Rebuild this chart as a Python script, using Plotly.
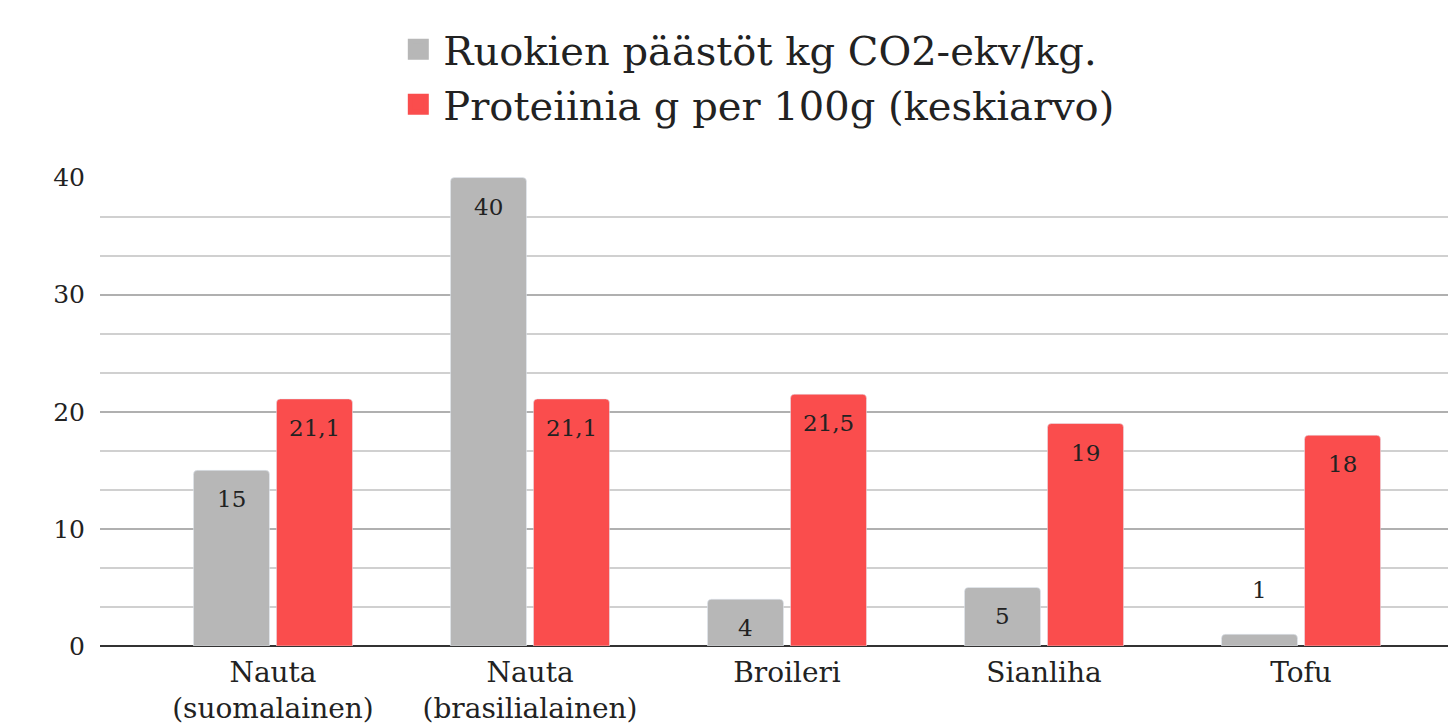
import plotly.graph_objects as go

categories = ["Nauta<br>(suomalainen)", "Nauta<br>(brasilialainen)", "Broileri", "Sianliha", "Tofu"]
emissions = [15, 40, 4, 5, 1]
protein = [21.1, 21.1, 21.5, 19, 18]
series_names = ["Ruokien päästöt kg CO2-ekv/kg.", "Proteiinia g per 100g (keskiarvo)"]
colors = ["#b7b7b7", "#fa4d4d"]
y_ticks = [0, 10, 20, 30, 40]

FONT = "DejaVu Serif"
TXT = "#222222"

def fmt(v):
    return ("%g" % v).replace(".", ",")

fig = go.Figure()
for vals, name, col in [(emissions, series_names[0], colors[0]), (protein, series_names[1], colors[1])]:
    fig.add_trace(go.Bar(x=categories, y=vals, name=name, marker=dict(color=col),
                         showlegend=False, hoverinfo="x+y"))
    # legend proxy with larger square symbol
    fig.add_trace(go.Scatter(x=[None], y=[None], mode="markers", name=name,
                             marker=dict(symbol="square", size=16, color=col,
                                         line=dict(color=col, width=5)),
                             showlegend=True))

# value labels placed at each bar top via data coordinates
for vals, dx in [(emissions, -41.5), (protein, 41.5)]:
    for cat, v in zip(categories, vals):
        small = v < 3
        fig.add_annotation(x=cat, y=v, text=fmt(v), showarrow=False,
                           xshift=dx, yshift=(44 if small else -29),
                           font=dict(family=FONT, size=23, color=TXT),
                           bgcolor="white" if small else None)

fig.update_layout(
    width=1456, height=724,
    margin=dict(l=92, r=8, t=169, b=86, autoexpand=False),
    paper_bgcolor="white", plot_bgcolor="white",
    barmode="group", bargap=0.354, bargroupgap=0.084,
    barcornerradius=4,
    font=dict(family=FONT, color=TXT),
    legend=dict(orientation="v", x=0.484, xanchor="center",
                yref="container", y=0.988, yanchor="top",
                font=dict(family=FONT, size=40, color=TXT),
                traceorder="normal", itemwidth=40),
)
fig.update_xaxes(
    range=[-0.673, 4.603], showgrid=False, automargin=False,
    tickfont=dict(family=FONT, size=28, color=TXT),
    ticks="", showline=False, ticklabelstandoff=7,
)
fig.update_yaxes(
    range=[0, 40.05], tickvals=y_ticks, showgrid=True, automargin=False,
    gridcolor="#b0b0b0", gridwidth=1.5,
    minor=dict(dtick=10/3, showgrid=True, gridcolor="#d0d0d0", gridwidth=2),
    zeroline=True, zerolinecolor="#333333", zerolinewidth=2,
    tickfont=dict(family=FONT, size=25, color=TXT),
    ticks="", ticklabelstandoff=14,
)

fig.write_html("out.html")
